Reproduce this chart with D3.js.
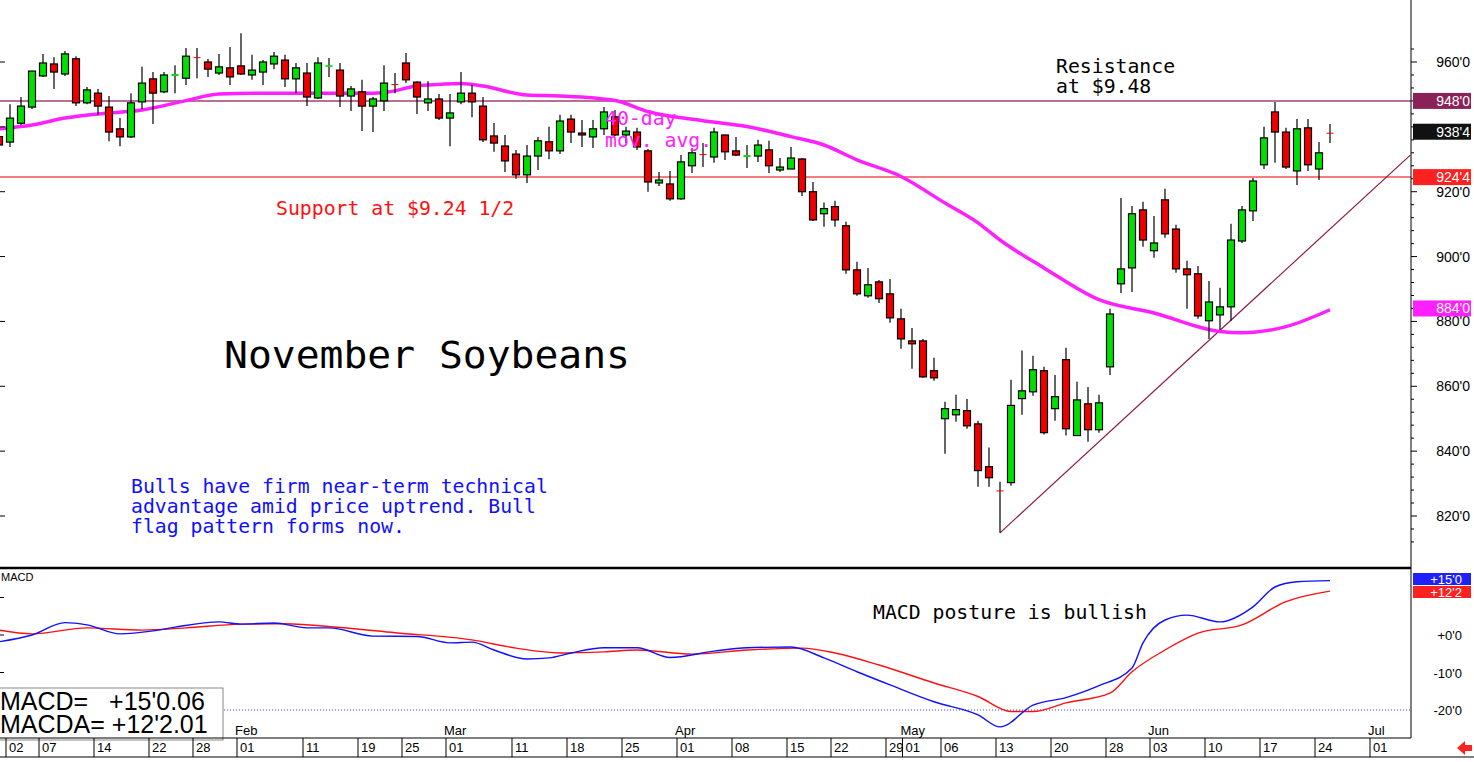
<!DOCTYPE html>
<html><head><meta charset="utf-8">
<script src="https://cdn.jsdelivr.net/npm/d3@7"></script>
<style>body{margin:0;background:#fff;overflow:hidden}svg{display:block}</style>
</head><body><svg id="chart" width="1474" height="762"></svg>
<script>
// daily OHLC, one entry per trading day (index 0 = first visible bar)
const opens  = [937,935.3,941.1,946.1,955.7,959.4,956.3,961,947.4,950.4,946.1,939.4,936.9,947.7,954.8,950.8,955.7,955,961.5,960,956.6,958.2,958.8,956,956.9,959.4,960.6,954.8,956.6,948.9,958.5,957.5,949.5,950.8,946.4,948,953.2,959.7,953.8,947.4,948.6,942.7,947.7,950.4,946.4,937.2,934.1,931.6,925.2,931,935.4,932.6,942.4,938.1,936.9,939.4,943.1,937.5,938.4,932.6,922.7,922.4,917.8,928,931.6,930.7,937.5,932.6,930.7,931,932.9,926.7,927,930.1,920,913.2,915.4,909.5,895.9,887.9,892.2,888.5,880.8,874,874,864.8,850,851.2,852.5,848.4,835.2,827.9,830.3,856.2,858.3,864.8,853.1,868.2,844.8,854.6,846.6,866,891.6,896.5,914.4,901.8,917.5,908.5,896.2,894.7,880.2,882,884.5,904.8,914.1,928.3,944.6,938.4,926.4,939.7,927,938.2];
const closes = [934.4,942.7,946.4,957.2,959.7,956.9,962.5,947.4,951.4,946.4,938.4,936.9,947.4,953.5,950.4,956,956.3,961.8,961.5,957.8,958.5,955.4,956.3,957.5,960,961.8,954.8,958.2,949.2,959.7,959,949.5,951.7,946.4,948.6,953.5,953.2,954.5,949.2,948.6,942.7,944.3,950.4,947.7,936,935,929.5,925.2,931,935.7,932.6,941.8,938.4,937.5,939.4,944.6,937.5,938.7,933.8,923,923.6,917.8,929.2,932,931.6,938.4,932.3,931.3,931.3,934.4,928,927.6,930.4,920,911.3,914.8,911.3,895.9,888.5,891.3,887,881.1,874.6,873.1,862.9,862.6,853.1,852.8,847.8,834,831.8,827.9,854.1,858.6,865.1,845.7,856.8,846.9,855.8,846.6,854.9,882.3,896.2,913.2,905.1,904.2,907,896.2,894.4,881.7,886,884.5,905.1,914.4,923.3,936.6,938.4,927.6,939.4,928.3,932,938.2];
const highs  = [938,947,949.2,957.2,962.5,961.5,963.4,961.8,952.3,951.7,949.5,942.7,950.4,958.5,956.9,956.9,959,964.3,964.3,960.9,962.5,964.6,968.9,962.2,960.6,963.1,962.2,959.7,959.7,961.5,961.2,959.7,952.6,954.5,949.2,959,956.6,962.8,954.1,954.1,950.1,950.1,956.9,952.9,949.2,941.2,937.5,932.9,934.4,936.9,940,943.7,943.7,942.1,942.1,946.1,945.2,940,939.7,933.2,926.1,926.4,931.3,933.5,935,939.7,937.5,936.9,934.4,936,935.7,930.4,933.8,930.4,923,916.7,917.2,910.7,898.4,896.5,892.8,893.1,883.9,878,874.6,868.8,855.2,857.4,856.1,849.4,841.1,830.6,862,871,869.4,866,863.5,871.9,861.4,859.8,857.4,883.9,918.1,915.6,916.9,912.5,920.9,909.8,898.7,897.1,892.5,890.4,910.1,915.6,924.2,940,947.7,939.7,942.4,942.4,935.3,940.9];
const lows   = [932,933.8,940.6,945.5,955.4,951.7,955.7,946.4,947,943.7,935.6,934,936.6,945.5,940.9,950.4,950.4,952.9,955,955.4,956,952.9,956,954.5,952.9,957.8,952.3,950.4,946.4,948.6,955.4,946.1,944.9,938.7,938.4,944.9,950.4,953.5,944,944.9,942.1,934,947,943,935.3,932.3,926.1,924,922.7,926.7,930,931.6,935,933.8,933.5,937.5,937.2,935,932.9,920,921.8,917.2,917.5,925.8,927.6,928.9,929.8,931,927.3,929.2,925.8,926.1,927,918.7,911,909.2,909.2,894.7,887.9,887.3,885.7,879.6,871.6,865.4,862.6,861.7,839.2,849.1,846.9,829,829,814.8,829.3,851.2,857.1,845.1,849.4,844.8,844.8,842.9,845.7,863.5,888.8,889.1,903,899.6,905.8,895,883.9,880.8,874.6,877.4,880.2,904.2,911,927,928.9,927,922.1,926.4,923.6,935];

// 40-day moving average, read at sample bars
const maIdx = [0,3,6,9,13,17,20,24,27,34,36,38,40,42,44,48,51,56,59,64,68,72,75,78,82,86,89,91,95,100,105,111,113,117,121];
const maVal = [939.4,940.6,942.7,944,945.2,948.1,950.1,950.4,950.4,950.4,951.1,952.7,953.1,953.4,952.6,949.8,949.5,948.1,944.7,941.9,940.1,937,934.4,929.8,924.7,916.5,910.4,905.1,896.5,886.7,882.6,876.9,876.5,878.4,883.6];

// MACD and its average (MACDA)
const macdIdx = [0,3,6,8,11,14,16,20,22,25,28,30,34,38,41,43,45,48,50,52,55,58,61,65,68,72,75,78,81,85,89,91,94,97,99,100,103,104,106,108,111,114,116,118,121];
const macdVal = [-1.8,0,3.3,2.7,0.3,1.1,2.1,3.5,2.9,3.2,1.9,1.9,-0.3,-0.4,-2.1,-1.9,-4,-6.4,-6.1,-4.8,-3.4,-3.4,-6,-4.3,-3.4,-3.2,-6.1,-9.8,-13.3,-17.8,-21.3,-24.5,-18.7,-16.7,-14.7,-13.5,-8.8,-2.1,4,5.3,3.5,7.5,12.8,14.2,14.5];
const sigIdx = [0,3,8,13,17,22,26,31,36,43,47,51,55,58,63,68,73,76,80,85,89,92,94,97,101,103,106,109,113,117,121];
const sigVal = [1.3,0.3,1.9,1.3,1.9,2.9,3,2,0.6,-1.3,-3.5,-4.8,-4.5,-4,-5.1,-4,-3.5,-4.8,-8,-12.8,-16.4,-20.4,-20.4,-18.1,-15.5,-9.8,-4,0.5,2.7,8.9,11.7];

const priceTicks = [960,920,900,880,860,840,820];
const macdTicks = [0,-10,-20];
const dayTicks = [["02",1],["07",4],["14",9],["22",14],["28",18],["01",22],["11",28],["19",33],["25",37],["01",41],["11",47],["18",52],["25",57],["01",62],["08",67],["15",72],["22",76],["29",81],["01",82.5],["06",86],["13",91],["20",96],["28",101],["03",105],["10",110],["17",115],["24",120],["01",125]];
const monthTicks = [["Feb",22],["Mar",41],["Apr",62],["May",82.5],["Jun",105],["Jul",125]];
const resistance = 948, support = 924.5;
const trendPts = [[91,814.8],[128.3,931.3]];

const svg = d3.select("#chart");
const plotR = 1411;
const x = d3.scaleLinear().domain([0,121]).range([-1,1330]);
const y = d3.scaleLinear().domain([960,820]).range([62,516]);
const ym = d3.scaleLinear().domain([0,-20]).range([635,710]);
const mono = "'DejaVu Sans Mono', monospace";
const narrow = "'Liberation Sans Narrow','Liberation Sans',sans-serif";
const fmt = v => v.toFixed(0) + "'0";

const defs = svg.append("defs");
defs.append("clipPath").attr("id","pc").append("rect").attr("x",0).attr("y",0).attr("width",plotR).attr("height",566);

// horizontal support/resistance
svg.append("line").attr("x1",0).attr("x2",plotR).attr("y1",y(resistance)).attr("y2",y(resistance))
  .attr("stroke","#a04070").attr("stroke-width",1.5);
svg.append("line").attr("x1",0).attr("x2",plotR).attr("y1",y(support)).attr("y2",y(support))
  .attr("stroke","#f05050").attr("stroke-width",1.5);

// trend line
svg.append("line").attr("clip-path","url(#pc)")
  .attr("x1",x(trendPts[0][0])).attr("y1",y(trendPts[0][1]))
  .attr("x2",x(trendPts[1][0])).attr("y2",y(trendPts[1][1]))
  .attr("stroke","#8b1a4a").attr("stroke-width",1.2);

// moving average
svg.append("path").datum(maIdx.map((d,i)=>[d,maVal[i]]))
  .attr("d", d3.line().x(d=>x(d[0])).y(d=>y(d[1])).curve(d3.curveMonotoneX))
  .attr("fill","none").attr("stroke","#ff20ff").attr("stroke-width",3.5);

// candles
const bars = svg.append("g").selectAll("g").data(opens.map((o,i)=>({i,o,c:closes[i],h:highs[i],l:lows[i]}))).join("g");
bars.append("line").attr("x1",d=>x(d.i)).attr("x2",d=>x(d.i)).attr("y1",d=>y(d.h)).attr("y2",d=>y(d.l))
  .attr("stroke","#000").attr("stroke-width",1.2);
bars.append("rect")
  .attr("x",d=>x(d.i)-3.5).attr("width",7)
  .attr("y",d=>y(Math.max(d.o,d.c)))
  .attr("height",d=>Math.max(1,Math.abs(y(d.o)-y(d.c))))
  .attr("fill",(d,k)=> d.c>=d.o && Math.abs(d.c-d.o)>0.05 ? "#00e000" : "#ee0000")
  .attr("stroke",d=>Math.abs(d.c-d.o)>0.6?"#000":"none").attr("stroke-width",1.2);

// right price axis
svg.append("line").attr("x1",plotR).attr("x2",plotR).attr("y1",0).attr("y2",738).attr("stroke","#000");
const ticksG = svg.append("g");
d3.range(812,968,4).forEach(v=>{
  ticksG.append("line").attr("x1",plotR).attr("x2",plotR+(v%20===0?6:3)).attr("y1",y(v)).attr("y2",y(v)).attr("stroke","#000");
  ticksG.append("line").attr("x1",0).attr("x2",v%20===0?5:0).attr("y1",y(v)).attr("y2",y(v)).attr("stroke","#000");
});
priceTicks.forEach(v=>{
  svg.append("text").attr("x",1470).attr("y",y(v)+5).attr("text-anchor","end")
    .attr("font-family",narrow).attr("font-size",14).text(fmt(v));
});
function tag(val, txt, bg, py){
  svg.append("rect").attr("x",1413).attr("y",py-8).attr("width",58).attr("height",16).attr("fill",bg);
  svg.append("text").attr("x",1470).attr("y",py+5).attr("text-anchor","end").attr("fill","#fff")
    .attr("font-family",narrow).attr("font-size",14).text(txt);
}
tag(948,"948'0","#8b2257",y(948));
tag(938.5,"938'4","#111",y(938.5));
tag(924.5,"924'4","#ff2020",y(924.5));
tag(884,"884'0","#ff20ff",y(884));

// annotations
const ann = (t,px,py,col,sz)=>svg.append("text").attr("x",px).attr("y",py).attr("fill",col)
  .attr("font-family",mono).attr("font-size",sz||19.8).text(t);
ann("Resistance",1056,73,"#000");
ann("at $9.48",1056,93,"#000");
ann("Support at $9.24 1/2",276,215,"#ff1010");
ann("40-day",605,125,"#ff20ff");
ann("mov. avg.",605,147,"#ff20ff");
svg.append("text").attr("x",224).attr("y",368).attr("font-family",mono).attr("font-size",38)
  .attr("textLength",406).attr("lengthAdjust","spacingAndGlyphs").text("November Soybeans");
ann("Bulls have firm near-term technical",131,493,"#1010ff");
ann("advantage amid price uptrend. Bull",131,513,"#1010ff");
ann("flag pattern forms now.",131,533,"#1010ff");

// MACD panel
svg.append("line").attr("x1",0).attr("x2",plotR).attr("y1",568).attr("y2",568).attr("stroke","#000").attr("stroke-width",2.5);
svg.append("text").attr("x",1).attr("y",581).attr("font-family",narrow).attr("font-size",11).text("MACD");
svg.append("line").attr("x1",224).attr("x2",plotR).attr("y1",ym(-20)).attr("y2",ym(-20))
  .attr("stroke","#4040ff").attr("stroke-dasharray","1,2");
macdTicks.forEach(v=>{
  svg.append("text").attr("x",1462).attr("y",ym(v)+5).attr("text-anchor","end")
    .attr("font-family",narrow).attr("font-size",13).text((v>=0?"+":"")+v+"'0");
});
[10,0,-10,-20].forEach(v=>svg.append("line").attr("x1",0).attr("x2",4).attr("y1",ym(v)).attr("y2",ym(v)).attr("stroke","#000"));
const mline = d3.line().x(d=>x(d[0])).y(d=>ym(d[1])).curve(d3.curveMonotoneX);
svg.append("path").datum(sigIdx.map((d,i)=>[d,sigVal[i]])).attr("d",mline).attr("fill","none").attr("stroke","#ff1010").attr("stroke-width",1.4);
svg.append("path").datum(macdIdx.map((d,i)=>[d,macdVal[i]])).attr("d",mline).attr("fill","none").attr("stroke","#1010ff").attr("stroke-width",1.4);
function mtag(txt,bg,py){
  svg.append("rect").attr("x",1413).attr("y",py-6).attr("width",58).attr("height",12).attr("fill",bg);
  svg.append("text").attr("x",1462).attr("y",py+5).attr("text-anchor","end").attr("fill","#fff")
    .attr("font-family",narrow).attr("font-size",13).text(txt);
}
mtag("+12'2","#ff2020",592);
mtag("+15'0","#2020ff",579);
svg.append("text").attr("x",873).attr("y",619).attr("font-family",mono).attr("font-size",19.8).text("MACD posture is bullish");

// MACD value box
svg.append("rect").attr("x",-1).attr("y",688).attr("width",224).attr("height",52).attr("fill","#fff").attr("stroke","#888");
svg.append("text").attr("x",0).attr("y",710).attr("font-family",narrow).attr("font-size",25).attr("xml:space","preserve").text("MACD=   +15'0.06");
svg.append("text").attr("x",0).attr("y",733).attr("font-family",narrow).attr("font-size",25).text("MACDA= +12'2.01");

// bottom date axis
svg.append("line").attr("x1",0).attr("x2",plotR).attr("y1",738).attr("y2",738).attr("stroke","#000");
svg.append("line").attr("x1",0).attr("x2",1474).attr("y1",757).attr("y2",757).attr("stroke","#000");
dayTicks.forEach(([t,i])=>{
  const px = x(i)-4;
  svg.append("line").attr("x1",px).attr("x2",px).attr("y1",738).attr("y2",757).attr("stroke","#000");
  svg.append("text").attr("x",px+3).attr("y",752).attr("font-family",narrow).attr("font-size",13).text(t);
});
monthTicks.forEach(([t,i])=>{
  svg.append("text").attr("x",x(i)-6).attr("y",735).attr("font-family",narrow).attr("font-size",13).text(t);
});
svg.append("path").attr("d","M1457,748 L1465,741 L1465,745 L1472,745 L1472,751 L1465,751 L1465,755 Z").attr("fill","#ff2020");
</script></body></html>
